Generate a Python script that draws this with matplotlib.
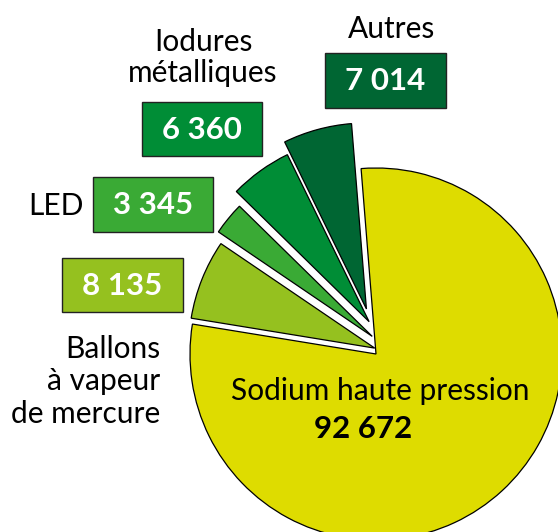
import numpy as np
import matplotlib
matplotlib.use("Agg")
import matplotlib.pyplot as plt
from matplotlib.patches import Rectangle

plt.rcParams['font.family'] = ['Lato', 'DejaVu Sans']

# data (drawn counter-clockwise starting near 12 o'clock)
labels = ["Autres", "Iodures\nmétalliques", "LED", "Ballons\nà vapeur\nde mercure",
          "Sodium haute pression"]
values = [7014, 6360, 3345, 8135, 92672]
colors = ['#006633', '#008d36', '#3aaa35', '#95c11f', '#dedc00']

W, H = 558, 532
LABEL_FS = 21.5
NUM_FS = 22.5


def fmt(v):
    return f"{v:,}".replace(",", " ")


fig = plt.figure(figsize=(W / 100, H / 100), dpi=100)
ax = fig.add_axes([0, 0, 1, 1])

# pie in pixel-like coordinates (y up)
cx, cy, R = 376, H - 354, 186
wedges, _ = ax.pie(values, colors=colors, startangle=94.6, counterclock=True,
                   radius=R, center=(cx, cy),
                   wedgeprops=dict(edgecolor='black', linewidth=0.9))

# small slices are pulled out upward, by different amounts
shift = [46, 33, 18, 6, 0]
ang = np.deg2rad(102)
for w, s in zip(wedges, shift):
    w.set_center((cx + s * np.cos(ang), cy + s * np.sin(ang)))

ax.set_xlim(0, W)
ax.set_ylim(0, H)
ax.set_aspect('equal')
ax.axis('off')

# value boxes (pixel coords, top-left origin)
boxes = [(325, 53, 121, 55), (142, 102, 120, 54), (93, 177, 120, 55), (62, 258, 121, 54)]
for (x, y, bw, bh), v, c in zip(boxes, values[:4], colors[:4]):
    ax.add_patch(Rectangle((x, H - y - bh), bw, bh, facecolor=c, edgecolor='#222222',
                           linewidth=1.0, zorder=3))
    ax.text(x + bw / 2, H - y - bh / 2 - 1, fmt(v), ha='center', va='center',
            color='white', fontsize=NUM_FS, fontweight='bold', zorder=4)

# category labels
ax.text(392, H - 38, labels[0], ha='center', va='baseline', fontsize=LABEL_FS)
ax.text(203, H - 82, labels[1], ha='center', va='baseline', fontsize=LABEL_FS,
        linespacing=1.15)
ax.text(28, H - 215, labels[2], ha='left', va='baseline', fontsize=LABEL_FS)
ax.text(160, H - 423, labels[3], ha='right', va='baseline', fontsize=LABEL_FS,
        multialignment='right', linespacing=1.2)
ax.text(380, H - 400, labels[4], ha='center', va='baseline', fontsize=LABEL_FS)
ax.text(363, H - 438, fmt(values[4]), ha='center', va='baseline', fontsize=NUM_FS,
        fontweight='bold')

fig.savefig("out.png", dpi=100)
